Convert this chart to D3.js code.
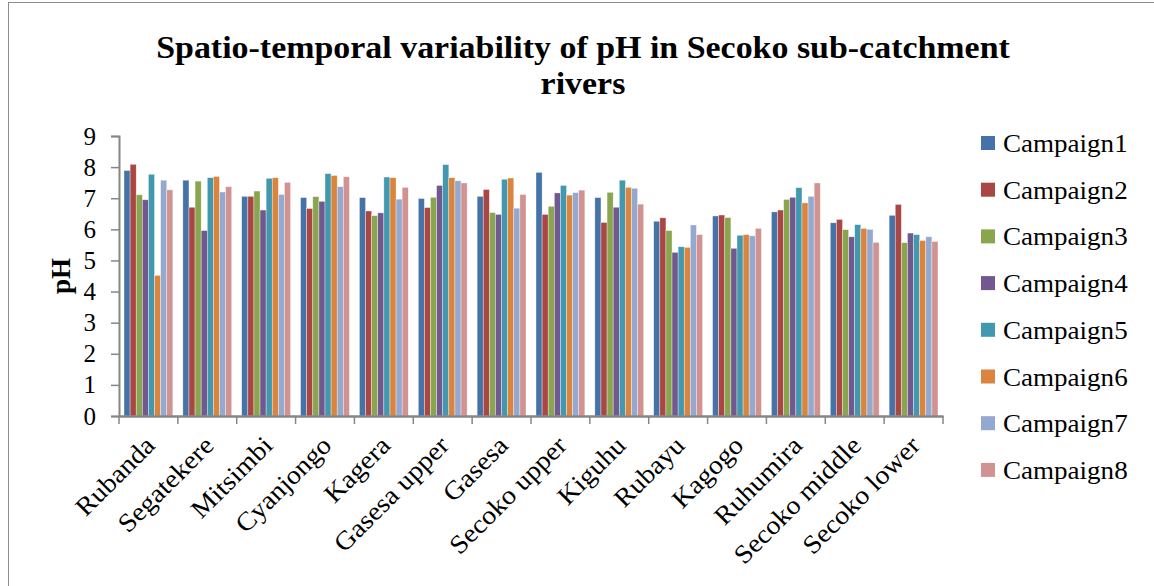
<!DOCTYPE html>
<html>
<head>
<meta charset="utf-8">
<script src="https://cdn.jsdelivr.net/npm/d3@7/dist/d3.min.js"></script>
<style>
  html, body { margin: 0; padding: 0; background: #fff; }
  svg { display: block; }
</style>
</head>
<body>
<svg id="chart" width="1154" height="586"></svg>
<script>
const categories = ["Rubanda", "Segatekere", "Mitsimbi", "Cyanjongo", "Kagera", "Gasesa upper", "Gasesa", "Secoko upper", "Kiguhu", "Rubayu", "Kagogo", "Ruhumira", "Secoko middle", "Secoko lower"];
const seriesNames = ["Campaign1", "Campaign2", "Campaign3", "Campaign4", "Campaign5", "Campaign6", "Campaign7", "Campaign8"];
const campaign1 = [7.89, 7.58, 7.06, 7.02, 7.02, 6.99, 7.06, 7.83, 7.02, 6.26, 6.43, 6.56, 6.21, 6.45];
const campaign2 = [8.09, 6.71, 7.06, 6.67, 6.59, 6.70, 7.28, 6.48, 6.22, 6.37, 6.46, 6.62, 6.32, 6.80];
const campaign3 = [7.11, 7.55, 7.23, 7.05, 6.44, 7.03, 6.54, 6.74, 7.19, 5.96, 6.38, 6.96, 5.99, 5.57];
const campaign4 = [6.95, 5.96, 6.62, 6.90, 6.53, 7.41, 6.48, 7.17, 6.71, 5.26, 5.39, 7.03, 5.76, 5.88];
const campaign5 = [7.77, 7.66, 7.64, 7.79, 7.68, 8.08, 7.61, 7.41, 7.58, 5.44, 5.81, 7.34, 6.15, 5.83];
const campaign6 = [4.52, 7.70, 7.66, 7.73, 7.66, 7.66, 7.65, 7.10, 7.35, 5.42, 5.83, 6.85, 6.03, 5.64];
const campaign7 = [7.58, 7.20, 7.12, 7.37, 6.97, 7.56, 6.68, 7.18, 7.32, 6.14, 5.79, 7.06, 6.00, 5.76];
const campaign8 = [7.27, 7.37, 7.51, 7.69, 7.35, 7.49, 7.12, 7.26, 6.81, 5.83, 6.03, 7.49, 5.58, 5.61];
const yTicks = [0, 1, 2, 3, 4, 5, 6, 7, 8, 9];
const titleLines = ["Spatio-temporal variability of pH in Secoko sub-catchment", "rivers"];
const yLabel = "pH";
const colors = ["#4572A7", "#AA4643", "#89A54E", "#71588F", "#4198AF", "#DB843D", "#93A9CF", "#D19392"];

const seriesValues = [campaign1, campaign2, campaign3, campaign4, campaign5, campaign6, campaign7, campaign8];

const svg = d3.select("#chart");
const FONT = "'Liberation Serif', 'DejaVu Serif', serif";
const axisColor = "#868686";

// widen Liberation Serif text a little to mimic the wider original face
function widen(sel, factor) {
  sel.each(function () {
    const w = this.getComputedTextLength();
    d3.select(this).attr("textLength", w * factor).attr("lengthAdjust", "spacingAndGlyphs");
  });
}

// outer frame
svg.append("rect")
  .attr("x", 8.5).attr("y", 2.5)
  .attr("width", 1160).attr("height", 600)
  .attr("fill", "none").attr("stroke", "#8c8c8c").attr("stroke-width", 1);

const plot = { left: 119, right: 943, top: 136, bottom: 416 };

const x0 = d3.scaleBand().domain(categories)
  .range([plot.left, plot.right]).paddingInner(0.17).paddingOuter(0.085);
const x1 = d3.scaleBand().domain(seriesNames).range([0, x0.bandwidth()]).padding(0);
const y = d3.scaleLinear().domain([0, 9]).range([plot.bottom, plot.top]);

// bars
const groups = svg.append("g").selectAll("g")
  .data(categories)
  .join("g")
  .attr("transform", d => `translate(${x0(d)},0)`);

groups.selectAll("rect")
  .data((c, i) => seriesNames.map((s, j) => ({ s, j, v: seriesValues[j][i] })))
  .join("rect")
  .attr("x", d => x1(d.s))
  .attr("y", d => y(d.v))
  .attr("width", x1.bandwidth())
  .attr("height", d => y(0) - y(d.v))
  .attr("fill", d => colors[d.j])
  .attr("stroke", "#ffffff")
  .attr("stroke-opacity", 0.6)
  .attr("stroke-width", 0.6);

// y axis
const yAxis = d3.axisLeft(y).tickValues(yTicks).tickSize(8).tickPadding(15).tickFormat(d3.format("d"));
const gy = svg.append("g").attr("transform", `translate(${plot.left},0)`).call(yAxis);
gy.select(".domain").attr("stroke", axisColor).attr("stroke-width", 2);
gy.selectAll(".tick line").attr("stroke", axisColor).attr("stroke-width", 1.5);
gy.selectAll(".tick text").attr("font-family", FONT).attr("font-size", 25).attr("fill", "#000");

// x axis
const xAxis = d3.axisBottom(x0).tickSize(0).tickFormat("");
const gx = svg.append("g").attr("transform", `translate(0,${plot.bottom})`).call(xAxis);
gx.select(".domain").attr("stroke", axisColor).attr("stroke-width", 2.5);
const boundaries = d3.range(categories.length + 1).map(i => plot.left + i * (plot.right - plot.left) / categories.length);
gx.selectAll(".bt").data(boundaries).join("line")
  .attr("class", "bt")
  .attr("x1", d => d).attr("x2", d => d)
  .attr("y1", 0).attr("y2", 8)
  .attr("stroke", axisColor).attr("stroke-width", 1.5);

// category labels
svg.append("g").selectAll("text")
  .data(categories)
  .join("text")
  .attr("transform", d => `translate(${x0(d) + x0.bandwidth() / 2 + 8},${plot.bottom + 31}) rotate(-45)`)
  .attr("text-anchor", "end")
  .attr("font-family", FONT)
  .attr("font-size", 26)
  .attr("fill", "#000")
  .text(d => d)
  .call(widen, 1.08);

// y label
svg.append("text")
  .attr("transform", `translate(70,276) rotate(-90)`)
  .attr("text-anchor", "middle")
  .attr("font-family", FONT)
  .attr("font-weight", "bold")
  .attr("font-size", 27)
  .attr("fill", "#000")
  .text(yLabel);

// title
svg.append("g").selectAll("text")
  .data(titleLines)
  .join("text")
  .attr("x", 583)
  .attr("y", (d, i) => 58 + i * 36)
  .attr("text-anchor", "middle")
  .attr("font-family", FONT)
  .attr("font-weight", "bold")
  .attr("font-size", 32)
  .attr("fill", "#000")
  .text(d => d)
  .call(widen, 1.06);

// legend
const legend = svg.append("g").selectAll("g")
  .data(seriesNames)
  .join("g")
  .attr("transform", (d, i) => `translate(981,${136 + i * 46.7})`);
legend.append("rect")
  .attr("width", 14).attr("height", 14)
  .attr("fill", (d, i) => colors[i]);
legend.append("text")
  .attr("x", 22).attr("y", 16)
  .attr("font-family", FONT)
  .attr("font-size", 26)
  .attr("fill", "#000")
  .text(d => d)
  .call(widen, 1.04);
</script>
</body>
</html>
